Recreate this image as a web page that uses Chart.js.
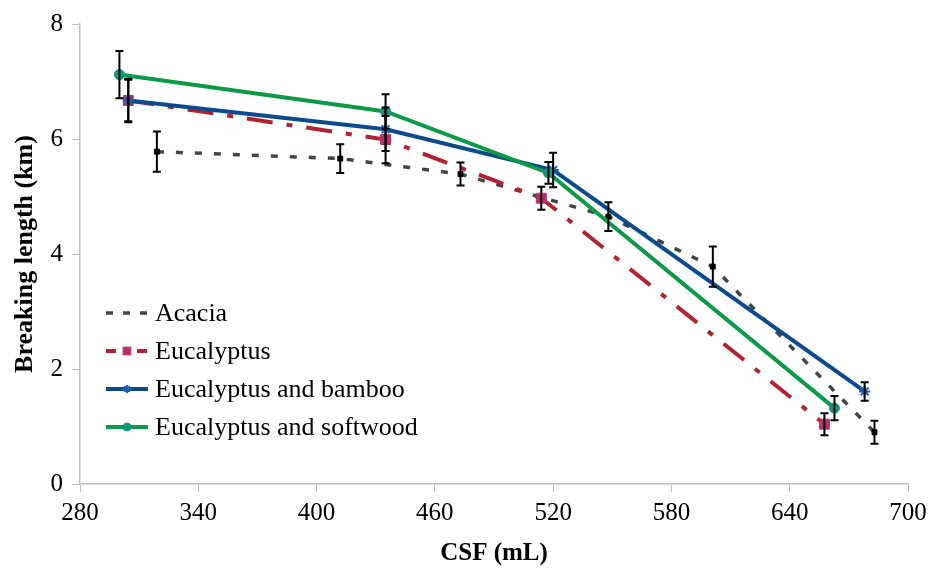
<!DOCTYPE html>
<html>
<head>
<meta charset="utf-8">
<script src="https://cdn.jsdelivr.net/npm/chart.js@4.4.0/dist/chart.umd.min.js"></script>
<style>
  html, body { margin: 0; padding: 0; background: #fff; }
  #wrap { width: 934px; height: 571px; }
</style>
</head>
<body>
<div id="wrap"><canvas id="myChart" width="934" height="571"></canvas></div>
<script>
// data
var seriesNames = ["Acacia", "Eucalyptus", "Eucalyptus and bamboo", "Eucalyptus and softwood"];

var acaciaX = [319, 412, 473, 548, 601, 683];
var acaciaY = [5.78, 5.66, 5.39, 4.65, 3.78, 0.90];
var acaciaErr = [0.35, 0.25, 0.2, 0.25, 0.35, 0.2];

var eucX = [304.5, 435, 514, 657.6];
var eucY = [6.67, 5.99, 4.97, 1.04];
var eucErr = [0.38, 0.41, 0.2, 0.19];

var bambooX = [304.5, 435, 520, 678];
var bambooY = [6.67, 6.17, 5.46, 1.61];
var bambooErr = [0.36, 0.38, 0.3, 0.16];

var softX = [300, 435, 517.6, 662.7];
var softY = [7.12, 6.48, 5.41, 1.32];
var softErr = [0.41, 0.3, 0.19, 0.21];

var xTicks = [280, 340, 400, 460, 520, 580, 640, 700];
var yTicks = [0, 2, 4, 6, 8];

var FONT = "'Liberation Serif', 'Times New Roman', serif";

function pts(xs, ys) {
	return xs.map((x, i) => ({ x: x, y: ys[i] }));
}

var errs = [acaciaErr, eucErr, bambooErr, softErr];

// error bars, drawn through the scales
const errorBars = {
	id: "errorBars",
	afterDatasetsDraw(chart) {
		const ctx = chart.ctx;
		const xs = chart.scales.x;
		const ys = chart.scales.y;
		ctx.save();
		ctx.strokeStyle = "#000";
		ctx.lineWidth = 2;
		chart.data.datasets.forEach((ds, di) => {
			ds.data.forEach((p, i) => {
				const e = errs[di][i];
				const px = xs.getPixelForValue(p.x);
				const top = ys.getPixelForValue(p.y + e);
				const bot = ys.getPixelForValue(p.y - e);
				ctx.beginPath();
				ctx.moveTo(px, top);
				ctx.lineTo(px, bot);
				ctx.moveTo(px - 4, top);
				ctx.lineTo(px + 4, top);
				ctx.moveTo(px - 4, bot);
				ctx.lineTo(px + 4, bot);
				ctx.stroke();
			});
		});
		ctx.restore();
	},
};

// legend inside the plot, lower left
var legendDash = [[7, 10], [10, 21, 10], [], []];
const insideLegend = {
	id: "insideLegend",
	afterDraw(chart) {
		const ctx = chart.ctx;
		ctx.save();
		chart.data.datasets.forEach((ds, i) => {
			const y = 313 + i * 38;
			ctx.strokeStyle = ds.borderColor;
			ctx.lineWidth = ds.borderWidth;
			ctx.setLineDash(legendDash[i]);
			ctx.beginPath();
			ctx.moveTo(106, y);
			ctx.lineTo(148, y);
			ctx.stroke();
			ctx.setLineDash([]);
			if (i > 0) {
				ctx.fillStyle = ds.pointBackgroundColor;
				ctx.strokeStyle = ds.pointBorderColor;
				ctx.lineWidth = ds.pointBorderWidth;
				Chart.helpers.drawPoint(ctx, { pointStyle: ds.pointStyle, radius: i == 1 ? 5.5 : 4, borderWidth: ds.pointBorderWidth, rotation: 0 }, 127, y);
			}
			ctx.fillStyle = "#000";
			ctx.font = "26px " + FONT;
			ctx.textBaseline = "middle";
			ctx.textAlign = "left";
			ctx.fillText(seriesNames[i], 155, y + 1);
		});
		ctx.restore();
	},
};

var ctx = document.getElementById("myChart").getContext("2d");

new Chart(ctx, {
	type: "scatter",
	data: {
		datasets: [
			{
				label: seriesNames[0],
				data: pts(acaciaX, acaciaY),
				showLine: true,
				borderColor: "#404646",
				borderWidth: 3.5,
				borderDash: [7, 12],
				borderCapStyle: "butt",
				pointStyle: "rect",
				pointRadius: 3.5,
				pointBackgroundColor: "#000",
				pointBorderColor: "#000",
				pointBorderWidth: 1,
				tension: 0,
				order: 4,
			},
			{
				label: seriesNames[1],
				data: pts(eucX, eucY),
				showLine: true,
				borderColor: "#B3202F",
				borderWidth: 4,
				borderDash: [26, 14, 6, 14],
				borderCapStyle: "butt",
				pointStyle: "rect",
				pointRadius: 7,
				pointBackgroundColor: "#B8306C",
				pointBorderColor: "#B8306C",
				pointBorderWidth: 1,
				tension: 0,
				order: 3,
			},
			{
				label: seriesNames[2],
				data: pts(bambooX, bambooY),
				showLine: true,
				borderColor: "#0C4A8E",
				borderWidth: 4,
				pointStyle: "star",
				pointRadius: 5.5,
				pointBackgroundColor: "#1F5FB0",
				pointBorderColor: "#1F5FB0",
				pointBorderWidth: 2,
				tension: 0,
				order: 2,
			},
			{
				label: seriesNames[3],
				data: pts(softX, softY),
				showLine: true,
				borderColor: "#0B9A46",
				borderWidth: 4,
				pointStyle: "circle",
				pointRadius: 5,
				pointBackgroundColor: "#119680",
				pointBorderColor: "#119680",
				pointBorderWidth: 1,
				tension: 0,
				order: 1,
			},
		],
	},
	options: {
		responsive: false,
		animation: false,
		layout: { padding: { top: 19, right: 26, left: 0, bottom: 0 } },
		plugins: {
			legend: { display: false },
			tooltip: { enabled: false },
		},
		scales: {
			x: {
				type: "linear",
				min: 280,
				max: 700,
				afterBuildTicks: (s) => { s.ticks = xTicks.map((v) => ({ value: v })); },
				afterFit: (s) => { s.height = 87; },
				grid: { drawOnChartArea: false, drawTicks: true, tickLength: 8, color: "#BFBFBF" },
				border: { color: "#BFBFBF", width: 1.5 },
				ticks: { color: "#000", padding: 6, font: { family: FONT, size: 25 } },
				title: {
					display: true,
					text: "CSF (mL)",
					color: "#000",
					font: { family: FONT, size: 25, weight: "bold" },
					padding: { top: 0, bottom: 2 },
				},
			},
			y: {
				min: 0,
				max: 8,
				afterBuildTicks: (s) => { s.ticks = yTicks.map((v) => ({ value: v })); },
				afterFit: (s) => { s.width = 80; },
				grid: { drawOnChartArea: false, drawTicks: true, tickLength: 8, color: "#BFBFBF" },
				border: { color: "#BFBFBF", width: 1.5 },
				ticks: { color: "#000", padding: 9, font: { family: FONT, size: 25 } },
				title: {
					display: true,
					text: "Breaking length (km)",
					color: "#000",
					font: { family: FONT, size: 26, weight: "bold" },
					padding: { top: 10, bottom: 0 },
				},
			},
		},
	},
	plugins: [errorBars, insideLegend],
});
</script>
</body>
</html>
